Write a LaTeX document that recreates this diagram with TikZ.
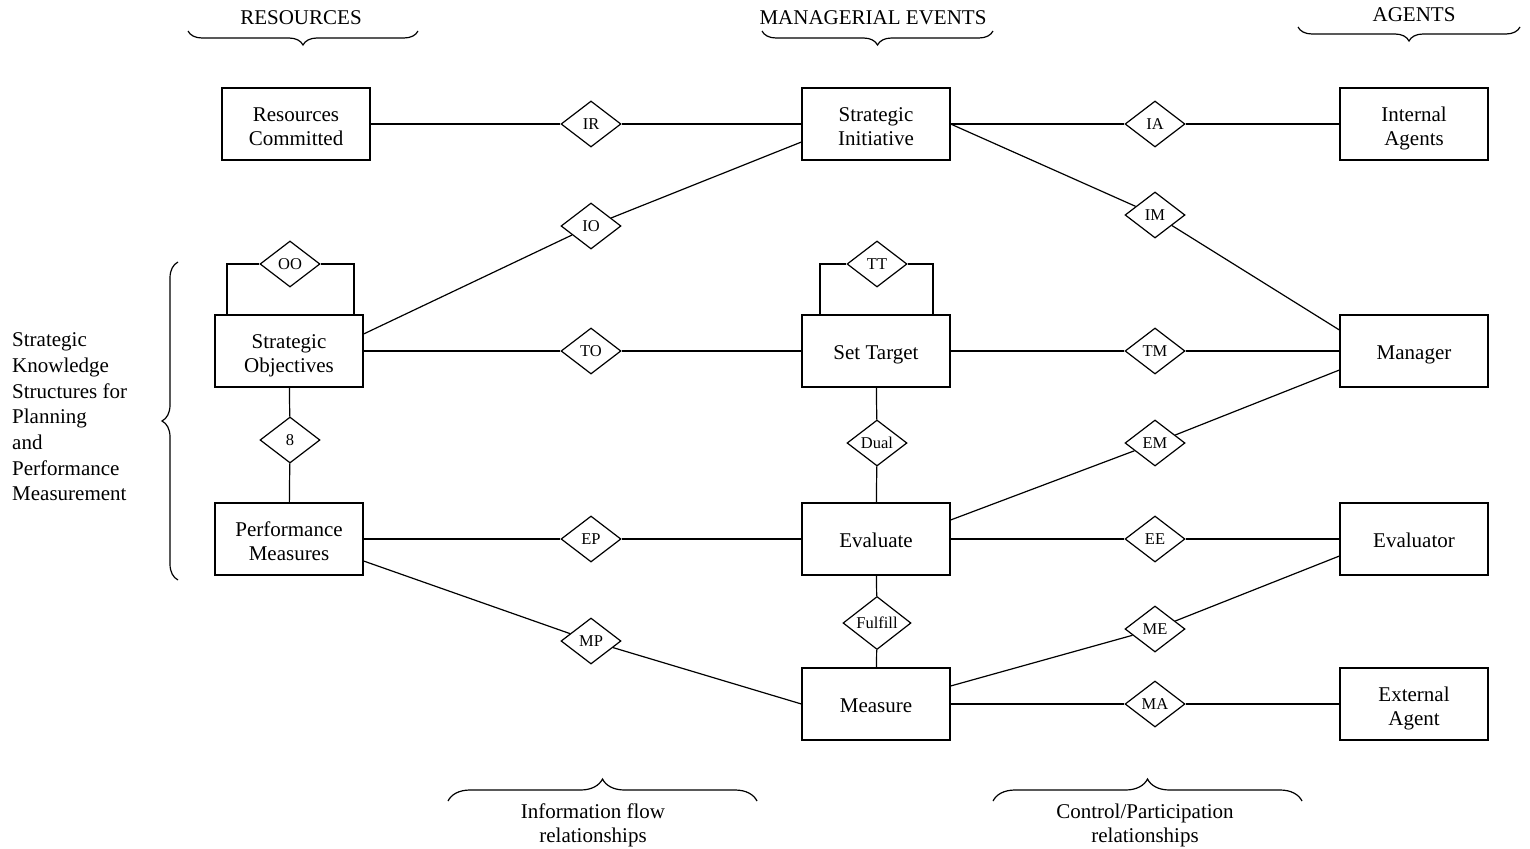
\documentclass[tikz,border=0pt]{standalone}
\usepackage{fontspec}
\setmainfont{Liberation Serif}
\usetikzlibrary{shapes.geometric,decorations.pathreplacing}
\begin{document}
\begin{tikzpicture}[x=1pt,y=-1pt,
  ent/.style={draw, line width=1.2pt, minimum width=148pt, minimum height=72pt, align=center, inner sep=0pt, font=\fontsize{21}{24}\selectfont, text height=16pt, text depth=0pt},
  ent2/.style={ent, text height=42pt, text depth=0pt},
  rel/.style={draw, diamond, line width=1.2pt, minimum width=60pt, minimum height=46pt, inner sep=0pt, font=\fontsize{16.5}{18}\selectfont},
  lab/.style={font=\fontsize{21}{24}\selectfont, align=center, inner sep=0pt},
  conn/.style={line width=1.2pt},
  brc/.style={line width=1.2pt, decorate, decoration={brace, amplitude=#1}}]
\useasboundingbox (0,0) rectangle (1530,848);

% entities
\node[ent2] (rc)  at (296,124) {Resources\\Committed};
\node[ent2] (si)  at (876,124) {Strategic\\Initiative};
\node[ent2] (ia)  at (1414,124) {Internal\\Agents};
\node[ent2] (so)  at (289,351) {Strategic\\Objectives};
\node[ent] (st)  at (876,351) {Set Target};
\node[ent] (mgr) at (1414,351) {Manager};
\node[ent2] (pm)  at (289,539) {Performance\\Measures};
\node[ent] (ev)  at (876,539) {Evaluate};
\node[ent] (evr) at (1414,539) {Evaluator};
\node[ent] (ms)  at (876,704) {Measure};
\node[ent2] (ext) at (1414,704) {External\\Agent};

% relationships
\node[rel] (ir) at (591,124) {IR};
\node[rel] (iab) at (1155,124) {IA};
\node[rel] (io) at (591,226) {IO};
\node[rel] (im) at (1155,215) {IM};
\node[rel] (oo) at (290,264) {OO};
\node[rel] (tt) at (877,264) {TT};
\node[rel] (to) at (591,351) {TO};
\node[rel] (tm) at (1155,351) {TM};
\node[rel] (eight) at (290,440) {8};
\node[rel] (dual) at (877,443) {Dual};
\node[rel] (em) at (1155,443) {EM};
\node[rel] (ep) at (591,539) {EP};
\node[rel] (ee) at (1155,539) {EE};
\node[rel, minimum width=68pt, minimum height=52pt] (ful) at (877,623) {Fulfill};
\node[rel] (mp) at (591,641) {MP};
\node[rel] (me) at (1155,629) {ME};
\node[rel] (ma) at (1155,704) {MA};

% connectors
\draw[conn] (rc) -- (ir) -- (si);
\draw[conn] (si) -- (iab) -- (ia);
\draw[conn] ([yshift=17pt]so.east) -- (io) -- ([yshift=-18pt]si.west);
\draw[conn] (si.east) -- (im) -- ([yshift=21pt]mgr.west);
\draw[conn] (so.east) -- (to) -- (st.west);
\draw[conn] (st.east) -- (tm) -- (mgr.west);
\draw[conn] (so) -- (eight) -- (pm);
\draw[conn] (st) -- (dual) -- (ev);
\draw[conn] ([yshift=19pt]ev.east) -- (em) -- ([yshift=-19pt]mgr.west);
\draw[conn] (pm.east) -- (ep) -- (ev.west);
\draw[conn] (ev.east) -- (ee) -- (evr.west);
\draw[conn] (ev) -- (ful) -- (ms);
\draw[conn] ([yshift=-22pt]pm.east) -- (mp) -- (ms.west);
\draw[conn] ([yshift=18pt]ms.east) -- (me) -- ([yshift=-17pt]evr.west);
\draw[conn] (ms.east) -- (ma) -- (ext.west);
% self loops
\draw[conn] ([xshift=-62pt]so.north) |- (oo.west);
\draw[conn] (oo.east) -| ([xshift=65pt]so.north);
\draw[conn] ([xshift=-56pt]st.north) |- (tt.west);
\draw[conn] (tt.east) -| ([xshift=57pt]st.north);

% top labels and braces
\node[lab] (lres) at (301,18) {RESOURCES};
\node[lab] (lme) at (873,18) {MANAGERIAL EVENTS};
\node[lab] (lag) at (1414,15) {AGENTS};
\draw[brc=14pt] (418,31) -- (188,31);
\draw[brc=14pt] (993,31) -- (762,31);
\draw[brc=14pt] (1520,27) -- (1298,27);

% left label and brace
\node[lab, anchor=west, align=left, font=\fontsize{21}{25.7}\selectfont] (lskp) at (12,417)
  {Strategic\\Knowledge\\Structures for\\Planning\\and\\Performance\\Measurement};
\draw[brc=16pt] (178,580) -- (178,262);

% bottom braces and labels
\draw[brc=22pt] (448,801) -- (757,801);
\draw[brc=22pt] (993,801) -- (1302,801);
\node[lab] (linf) at (593,825) {Information flow\\relationships};
\node[lab] (lctl) at (1145,825) {Control/Participation\\relationships};
\end{tikzpicture}
\end{document}
